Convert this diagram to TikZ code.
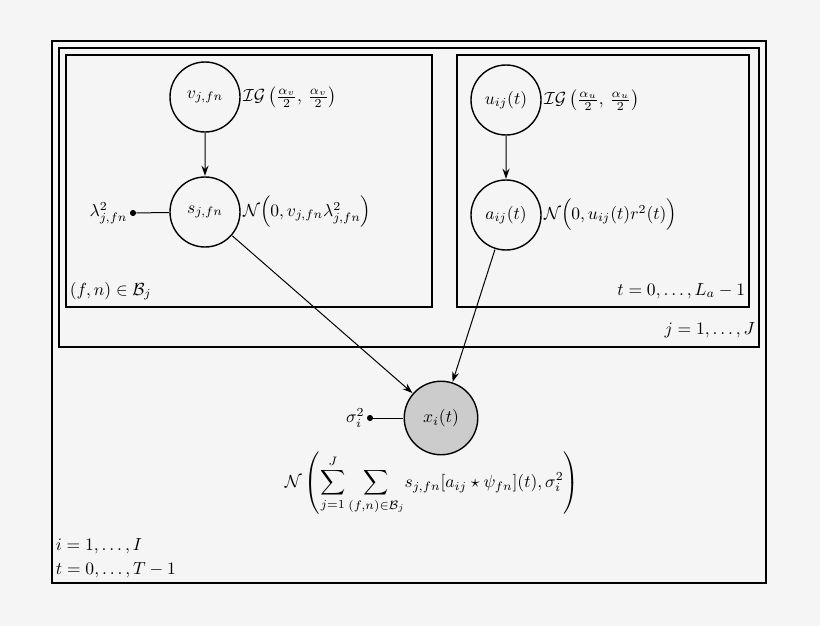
\documentclass[tikz,border=0pt]{standalone}
\usepackage{amsmath,amssymb}
\usetikzlibrary{arrows.meta}
\begin{document}
\begin{tikzpicture}[x=1pt,y=-1pt,
  every node/.style={scale=1.75},
  rv/.style={draw,circle,line width=1.4pt,minimum size=40pt,inner sep=0pt},
  plate/.style={draw,line width=1.3pt},
  fix/.style={circle,fill,inner sep=0pt,minimum size=3.5pt},
  arr/.style={-{Stealth[length=10pt,width=7pt]},line width=1pt}]
\fill[gray!8] (0,0) rectangle (820,626);
\useasboundingbox (0,0) rectangle (820,626);
\draw[plate] (52,41) rectangle (766,583);
\draw[plate] (59,48) rectangle (759,347);
\draw[plate] (66,55) rectangle (432,307);
\draw[plate] (457,55) rectangle (749,307);
\node[rv] (v) at (205,97) {$v_{j,fn}$};
\node[rv] (s) at (205,212) {$s_{j,fn}$};
\node[rv] (u) at (506,100) {$u_{ij}(t)$};
\node[rv] (a) at (506,215) {$a_{ij}(t)$};
\node[rv,fill=gray!40,minimum size=42pt] (x) at (441,418) {$x_i(t)$};
\node[fix] (lam) at (133,213) {};
\node[anchor=east,inner sep=1pt] (laml) at (lam.west) {$\lambda^2_{j,fn}$};
\node[fix] (sig) at (370,418) {};
\node[anchor=east,inner sep=1pt] (sigl) at (sig.west) {$\sigma^2_i$};
\draw[line width=1pt] (lam) -- (s);
\draw[line width=1pt] (sig) -- (x);
\draw[arr] (v) -- (s);
\draw[arr] (u) -- (a);
\draw[arr] (s) -- (x);
\draw[arr] (a) -- (x);
\node[anchor=west,inner sep=1pt] (ig1) at (241,97) {$\mathcal{IG}\left(\frac{\alpha_v}{2},\,\frac{\alpha_v}{2}\right)$};
\node[anchor=west,inner sep=1pt] (n1) at (241,212) {$\mathcal{N}\Big(0,v_{j,fn}\lambda^2_{j,fn}\Big)$};
\node[anchor=west,inner sep=1pt] (ig2) at (542,100) {$\mathcal{IG}\left(\frac{\alpha_u}{2},\,\frac{\alpha_u}{2}\right)$};
\node[anchor=west,inner sep=1pt] (n2) at (542,215) {$\mathcal{N}\Big(0,u_{ij}(t)r^2(t)\Big)$};
\node[anchor=west,inner sep=2pt] (pl1) at (66,291) {$(f,n)\in\mathcal{B}_j$};
\node[anchor=east,inner sep=2pt] (pl2) at (749,291) {$t=0,\ldots,L_a-1$};
\node[anchor=east,inner sep=2pt] (pl3) at (759,330) {$j=1,\ldots,J$};
\node (big) at (432,483) {$\displaystyle\mathcal{N}\left(\sum_{j=1}^{J}\sum_{(f,n)\in\mathcal{B}_j}\! s_{j,fn}[a_{ij}\star\psi_{fn}](t),\sigma_i^2\right)$};
\node[anchor=west,inner sep=2pt] (pl4) at (52,546) {$i=1,\ldots,I$};
\node[anchor=west,inner sep=2pt] (pl5) at (52,570) {$t=0,\ldots,T-1$};
\end{tikzpicture}
\end{document}
